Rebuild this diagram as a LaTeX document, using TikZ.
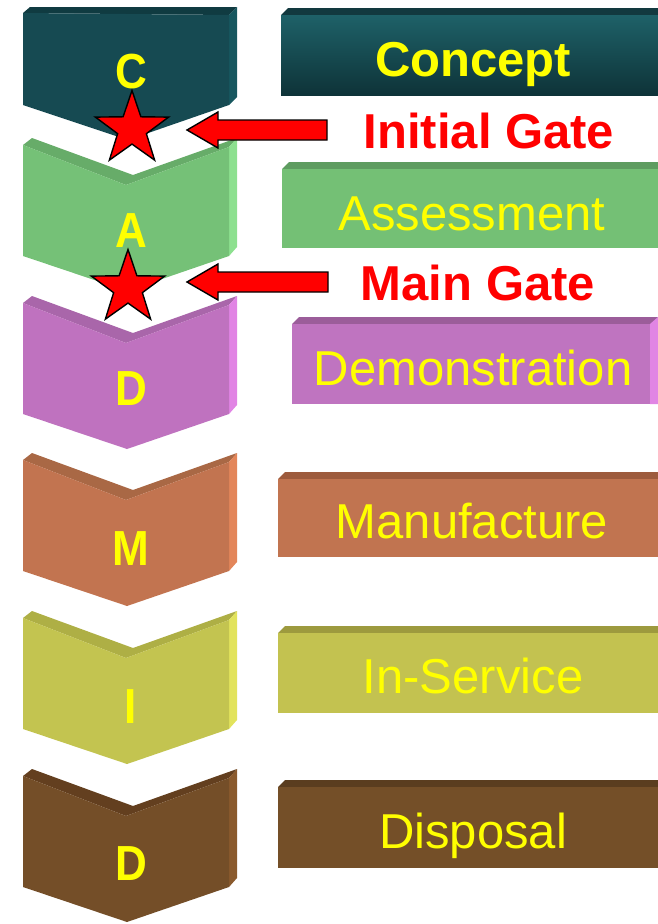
\documentclass[tikz,border=0pt]{standalone}
\usepackage{fontspec}
\setmainfont{Liberation Sans}
\usepackage{graphicx}
\usetikzlibrary{shapes.geometric}
\definecolor{yel}{HTML}{FFFF00}
\definecolor{gred}{HTML}{FF0000}
% chevron colours
\definecolor{cF}{HTML}{164A52}\definecolor{cT}{HTML}{103B41}\definecolor{cS}{HTML}{17575F}
\definecolor{aF}{HTML}{75C177}\definecolor{aT}{HTML}{67AC69}\definecolor{aS}{HTML}{8DE08F}
\definecolor{dF}{HTML}{BF72BF}\definecolor{dT}{HTML}{A966AA}\definecolor{dS}{HTML}{E184E4}
\definecolor{mF}{HTML}{C27450}\definecolor{mT}{HTML}{A96845}\definecolor{mS}{HTML}{E3865A}
\definecolor{iF}{HTML}{C3C450}\definecolor{iT}{HTML}{AEAF45}\definecolor{iS}{HTML}{E2E35C}
\definecolor{eF}{HTML}{744E28}\definecolor{eT}{HTML}{633F1F}\definecolor{eS}{HTML}{8A5A2D}
% box colours
\definecolor{bcTop}{HTML}{1E6168}\definecolor{bcBot}{HTML}{0E3338}\definecolor{bcT}{HTML}{12393F}
\definecolor{baF}{HTML}{74C075}\definecolor{baT}{HTML}{5E9C60}
\definecolor{bdF}{HTML}{BF74C0}\definecolor{bdT}{HTML}{9B5D9A}\definecolor{bdS}{HTML}{E185E4}
\definecolor{bmF}{HTML}{C17450}\definecolor{bmT}{HTML}{9D5B3D}
\definecolor{biF}{HTML}{C3C250}\definecolor{biT}{HTML}{9D9A3E}
\definecolor{beF}{HTML}{744F28}\definecolor{beT}{HTML}{5A3D1F}

\newcommand\chevshape[4]{% #1 top y, #2 front, #3 top band, #4 side
  \begin{scope}[shift={(0,#1)}]
    \fill[#3] (23,7) -- (32,0) -- (133,37) -- (237,0) -- (229,9) -- (126,47) -- cycle;
    \fill[#4] (237,0) -- (237,109) -- (229,118) -- (229,9) -- cycle;
    \fill[#2] (23,7) -- (126,47) -- (229,9) -- (229,118) -- (127,153) -- (23,118) -- cycle;
  \end{scope}}
\newcommand\phasebox[5]{% #1 left x, #2 top y, #3 bottom y, #4 front, #5 top band
  \fill[#5] (#1,#2+7) -- (#1+7,#2) -- (670,#2) -- (670,#2+7) -- cycle;
  \fill[#4] (#1,#2+7) rectangle (670,#3);}

\tikzset{
  lbl/.style={inner sep=0pt, anchor=base, text=yel, font=\fontsize{49}{49}\selectfont},
  lblb/.style={inner sep=0pt, anchor=base, text=yel, font=\bfseries\fontsize{49}{49}\selectfont},
  gatelbl/.style={inner sep=0pt, anchor=base, text=gred, font=\bfseries\fontsize{49}{49}\selectfont},
  letter/.style={inner sep=0pt, anchor=base, text=yel, font=\bfseries\fontsize{44}{44}\selectfont},
  gatestar/.style={star, star points=5, star point ratio=2.55, minimum size=77pt, inner sep=0pt,
                   fill=gred, draw=black, line width=1.4pt},
  gatearrow/.style={fill=gred, draw=black, line width=1.4pt, line join=miter},
}

\begin{document}
\begin{tikzpicture}[x=1pt,y=-1pt]
\useasboundingbox (0,0) rectangle (658,924);
\clip (0,0) rectangle (658,924);

% ---- chevron column ----
% C (flat top)
\fill[cT] (23,13) -- (30,7) -- (237,7) -- (229,15) -- cycle;
\fill[cS] (237,7) -- (237,97) -- (229,105) -- (229,15) -- cycle;
\fill[cF] (23,13) -- (229,15) -- (229,105) -- (128,140) -- (23,105) -- cycle;
\chevshape{138}{aF}{aT}{aS}
\chevshape{296}{dF}{dT}{dS}
\chevshape{453}{mF}{mT}{mS}
\chevshape{611}{iF}{iT}{iS}
\chevshape{769}{eF}{eT}{eS}

\node[letter] (lc) at (131,88) {\scalebox{1}[1.12]{C}};
\node[letter] (la) at (131,247) {\scalebox{1}[1.12]{A}};
\node[letter] (ld) at (131,405) {\scalebox{1}[1.12]{D}};
\node[letter] (lm) at (131,565) {\scalebox{1}[1.12]{M}};
\node[letter] (li) at (131,723) {\scalebox{1}[1.12]{I}};
\node[letter] (le) at (131,880) {\scalebox{1}[1.12]{D}};

% ---- phase boxes ----
\fill[bcT] (281,15) -- (288,8) -- (670,8) -- (670,15) -- cycle;
\fill[top color=bcTop, bottom color=bcBot] (281,15) rectangle (670,95);
\phasebox{282}{162}{248}{baF}{baT}
\phasebox{292}{317}{404}{bdF}{bdT}
\fill[bdS] (650,324) -- (658,317) -- (670,317) -- (670,404) -- (650,404) -- cycle;
\phasebox{278}{472}{557}{bmF}{bmT}
\phasebox{278}{626}{713}{biF}{biT}
\phasebox{278}{780}{868}{beF}{beT}

\node[lblb] (concept) at (473,76) {Concept};
\node[lbl] (assess) at (472,230) {Assessment};
\node[lbl] (demo) at (473,385) {Demonstration};
\node[lbl] (manu) at (472,538) {Manufacture};
\node[lbl] (inserv) at (473,693) {In-Service};
\node[lbl] (disp) at (473,848) {Disposal};

\node[gatelbl] (initial) at (489,148) {Initial Gate};
\node[gatelbl] (maingate) at (478,300) {Main Gate};

% ---- gate stars ----
\node[gatestar] (star1) at (132,129) {};
\node[gatestar] (star2) at (128,288) {};

% ---- gate arrows ----
\coordinate (ig) at (327,130);
\coordinate (mg) at (328,282);
\draw[gatearrow] (ig) ++(0,-10) -- (218,120) -- (218,112) -- (187,130) -- (218,148) -- (218,140) -- (327,140) -- cycle;
\draw[gatearrow] (mg) ++(0,-10) -- (218,272) -- (218,264) -- (187,282) -- (218,300) -- (218,292) -- (328,292) -- cycle;
\end{tikzpicture}
\end{document}
